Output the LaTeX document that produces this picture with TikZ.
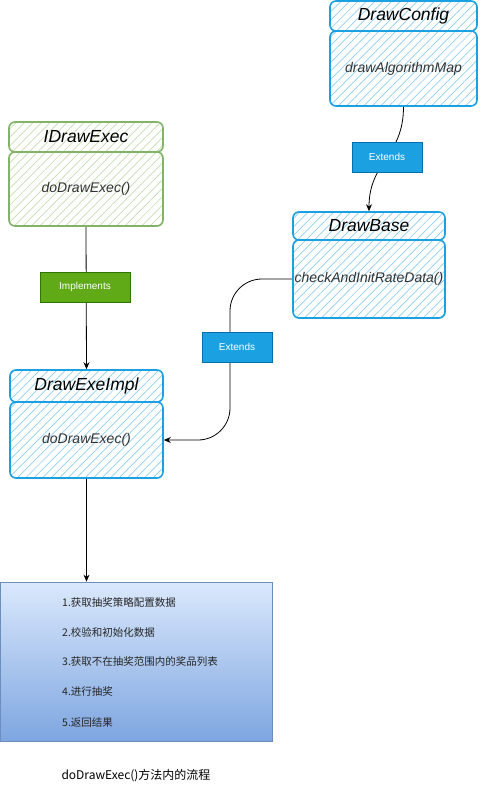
\documentclass[tikz,border=0pt]{standalone}
\usepackage{fontspec}
\setmainfont{Liberation Sans}
\newfontfamily\cjk{Noto Sans CJK SC}
\usetikzlibrary{patterns.meta,arrows.meta,calc}
\pgfdeclarelayer{background}
\pgfsetlayers{background,main}
\definecolor{bl}{HTML}{1BA1E2}
\definecolor{blh}{HTML}{8FCFEF}
\definecolor{gr}{HTML}{82B366}
\definecolor{grh}{HTML}{C6DDB3}
\definecolor{bodytxt}{HTML}{333333}
\definecolor{lblblue}{HTML}{1BA1E2}
\definecolor{lblblueb}{HTML}{006EAF}
\definecolor{lblgreen}{HTML}{60A917}
\definecolor{lblgreenb}{HTML}{2D7600}
\definecolor{flowtop}{HTML}{DAE8FC}
\definecolor{flowbot}{HTML}{7EA6E0}
\definecolor{flowb}{HTML}{6C8EBF}
\begin{document}
\begin{tikzpicture}[x=1pt,y=-1pt,
  hatchbase/.style={line width=1.6pt, rounded corners=6pt, inner sep=0pt,
    pattern={Lines[angle=45,distance=6pt,line width=0.7pt]}},
  bluebox/.style={hatchbase, draw=bl, pattern color=blh},
  greenbox/.style={hatchbase, draw=gr, pattern color=grh},
  hdrtext/.style={font=\fontsize{17.5}{20}\selectfont\itshape, text=black},
  bodytext/.style={font=\fontsize{14}{16}\selectfont\itshape, text=bodytxt},
  lbl/.style={minimum width=70pt, minimum height=30pt, inner sep=0pt, line width=0.8pt,
    text=white, font=\fontsize{10}{12}\selectfont},
  extlbl/.style={lbl, fill=lblblue, draw=lblblueb},
  implbl/.style={lbl, fill=lblgreen, draw=lblgreenb, minimum width=90pt},
  conn/.style={draw=black, line width=0.8pt, -{Stealth[length=7pt,width=6pt]}},
  flowtext/.style={anchor=west, font=\cjk\fontsize{10.5}{12}\selectfont, text=black!85, inner sep=0pt}
]
\useasboundingbox (0,0) rectangle (482,792);
\begin{pgfonlayer}{background}
\fill[white] (0,0) rectangle (482,792);
\end{pgfonlayer}

% DrawConfig
\node[bluebox, hdrtext, minimum width=147pt, minimum height=30pt] (cfgH) at (403.5,16) {DrawConfig};
\node[bluebox, bodytext, minimum width=147pt, minimum height=75pt] (cfgB) at (403.5,68.5) {drawAlgorithmMap};

% IDrawExec
\node[greenbox, hdrtext, minimum width=154pt, minimum height=30pt] (idH) at (86,137) {IDrawExec};
\node[greenbox, bodytext, minimum width=154pt, minimum height=74pt] (idB) at (86,189) {doDrawExec()};

% DrawBase
\node[bluebox, hdrtext, minimum width=152pt, minimum height=28pt] (dbH) at (369,226) {DrawBase};
\node[bluebox, bodytext, minimum width=152pt, minimum height=78pt] (dbB) at (369,279) {checkAndInitRateData()};

% DrawExeImpl
\node[bluebox, hdrtext, minimum width=153pt, minimum height=32pt] (daiH) at (86.5,386) {DrawExeImpl};
\node[bluebox, bodytext, minimum width=153pt, minimum height=76pt] (daiB) at (86.5,440) {doDrawExec()};

% flow box
\node[draw=flowb, line width=0.8pt, top color=flowtop, bottom color=flowbot,
  minimum width=272pt, minimum height=159pt, inner sep=0pt] (flow) at (136,661.5) {};
\node[flowtext] (f1) at (62,602) {1.获取抽奖策略配置数据};
\node[flowtext] (f2) at (62,632) {2.校验和初始化数据};
\node[flowtext] (f3) at (62,662) {3.获取不在抽奖范围内的奖品列表};
\node[flowtext] (f4) at (62,692) {4.进行抽奖};
\node[flowtext] (f5) at (62,722) {5.返回结果};

\node[font=\cjk\fontsize{12}{14}\selectfont, text=black] (cap) at (136,776) {doDrawExec()方法内的流程};

% labels
\node[extlbl] (ext1) at (387,157) {Extends};
\node[extlbl] (ext2) at (237,347) {Extends};
\node[implbl] (impl) at (85,287) {Implements};

\coordinate (bendA) at (230,347);

\begin{pgfonlayer}{background}
\draw[conn] (cfgB.south) .. controls +(0,50) and +(0,-50) .. (dbH.north);
\draw[conn] (idB.south) -- (daiH.north);
\draw[conn, rounded corners=32pt] (dbB.west) -| (bendA) |- (daiB.east);
\end{pgfonlayer}
\draw[conn] (daiB.south) -- (daiB.south |- flow.north);
\end{tikzpicture}
\end{document}
